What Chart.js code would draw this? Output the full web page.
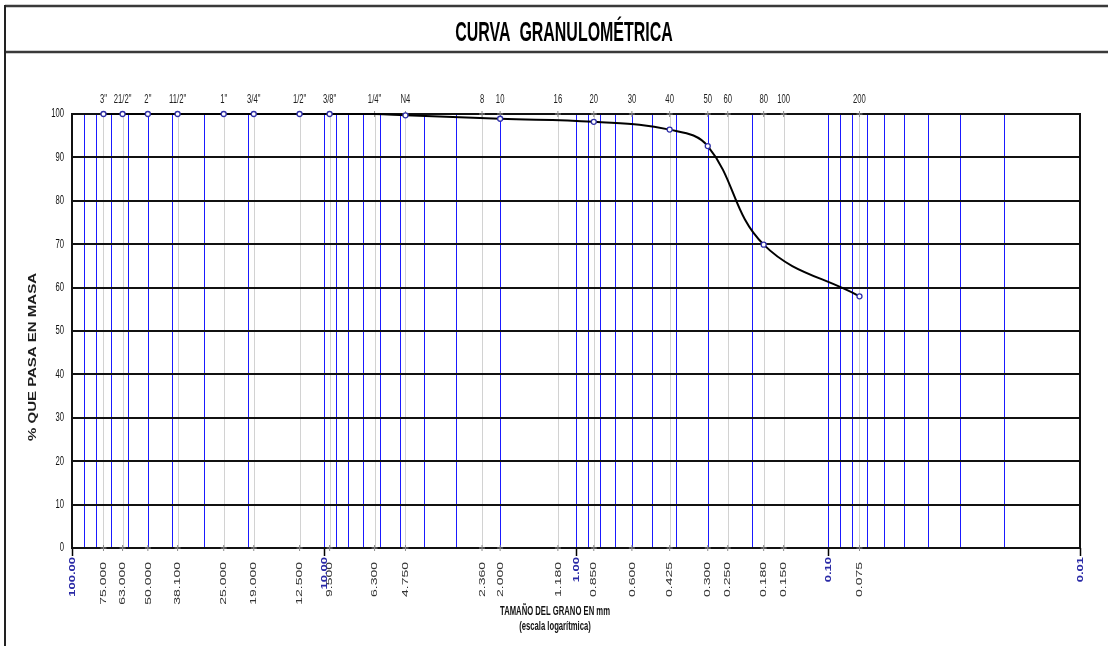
<!DOCTYPE html>
<html lang="es">
<head>
<meta charset="utf-8">
<title>Curva granulométrica</title>
<script src="https://cdn.jsdelivr.net/npm/chart.js@4.4.1/dist/chart.umd.min.js"></script>
<style>
  html, body { margin: 0; padding: 0; background: #ffffff; }
  #wrap { width: 1108px; height: 646px; position: relative; }
  canvas { display: block; }
</style>
</head>
<body>
<div id="wrap"><canvas id="curva" width="1108" height="646"></canvas></div>
<script>
// ---- Tamices (abertura en mm) y su designación ----
const sieveSizes = [75, 63, 50, 38.1, 25, 19, 12.5, 9.5, 6.3, 4.75, 2.36, 2.0, 1.18, 0.85, 0.6, 0.425, 0.3, 0.25, 0.18, 0.15, 0.075];
const sieveNames = ['3"', '21/2"', '2"', '11/2"', '1"', '3/4"', '1/2"', '3/8"', '1/4"', 'N4', '8', '10', '16', '20', '30', '40', '50', '60', '80', '100', '200'];
const sieveLabels = ['75.000', '63.000', '50.000', '38.100', '25.000', '19.000', '12.500', '9.500', '6.300', '4.750', '2.360', '2.000', '1.180', '0.850', '0.600', '0.425', '0.300', '0.250', '0.180', '0.150', '0.075'];

// ---- Décadas de la escala logarítmica ----
const decades = [100, 10, 1, 0.1, 0.01];
const decadeLabels = ['100.00', '10.00', '1.00', '0.10', '0.01'];

// ---- Subdivisiones logarítmicas (líneas azules) ----
const subdivisions = [
  90, 80, 70, 60, 50, 40, 30, 20,
  9, 8, 7, 6, 5, 4, 3, 2,
  0.9, 0.8, 0.7, 0.6, 0.5, 0.4, 0.3, 0.2,
  0.09, 0.08, 0.07, 0.06, 0.05, 0.04, 0.03, 0.02
];

// ---- Ensayo: tamaño (mm) y % que pasa ----
const testSizes = [75, 63, 50, 38.1, 25, 19, 12.5, 9.5, 6.3, 4.75, 2.0, 0.85, 0.425, 0.3, 0.18, 0.075];
const passing   = [100, 100, 100, 100, 100, 100, 100, 100, 100, 99.7, 98.9, 98.2, 96.4, 92.6, 69.9, 58.0];
const markerShown = [1, 1, 1, 1, 1, 1, 1, 1, 0, 1, 1, 1, 1, 1, 1, 1];

// ---- Eje vertical ----
const yTicks = [0, 10, 20, 30, 40, 50, 60, 70, 80, 90, 100];

const SQUEEZE = 0.64;
const FONT = '"Liberation Sans", Arial, sans-serif';

function squeezedText(ctx, text, x, y, o) {
  ctx.save();
  ctx.translate(x, y);
  ctx.scale(o.sx || SQUEEZE, 1);
  if (o.rotate) ctx.rotate(o.rotate);
  ctx.font = o.font;
  ctx.fillStyle = o.color || '#000';
  ctx.textAlign = o.align || 'center';
  ctx.textBaseline = o.baseline || 'alphabetic';
  ctx.fillText(text, 0, 0);
  ctx.restore();
}

function vline(ctx, px, y0, y1, color, width) {
  ctx.strokeStyle = color;
  ctx.lineWidth = width;
  ctx.beginPath();
  ctx.moveTo(px, y0);
  ctx.lineTo(px, y1);
  ctx.stroke();
}

const framePlugin = {
  id: 'frame',
  beforeDraw(chart) {
    const ctx = chart.ctx;
    const xs = chart.scales.x;
    const { top, bottom } = chart.chartArea;

    // marco de la hoja
    ctx.save();
    ctx.strokeStyle = '#3a3a3a';
    ctx.lineWidth = 2.5;
    ctx.beginPath();
    ctx.moveTo(5, 6); ctx.lineTo(1108, 6);
    ctx.moveTo(5, 52); ctx.lineTo(1108, 52);
    ctx.stroke();
    vline(ctx, 5, 5, 646, '#222', 2);

    // líneas verticales: tamices (gris), subdivisiones (azul), bordes (negro)
    sieveSizes.forEach(s => vline(ctx, Math.round(xs.getPixelForValue(s)) + 0.5, top, bottom, '#d2d2d2', 1));
    subdivisions.forEach(s => vline(ctx, Math.round(xs.getPixelForValue(s)) + 0.5, top, bottom, '#1a1aff', 1));
    vline(ctx, Math.round(xs.getPixelForValue(10)) + 0.5, top, bottom, '#1a1aff', 1);
    vline(ctx, Math.round(xs.getPixelForValue(1)) + 0.5, top, bottom, '#1a1aff', 1);
    vline(ctx, Math.round(xs.getPixelForValue(0.1)) + 0.5, top, bottom, '#1a1aff', 1);
    vline(ctx, Math.round(xs.getPixelForValue(100)), top - 1, bottom + 1, '#111', 2);
    vline(ctx, Math.round(xs.getPixelForValue(0.01)), top - 1, bottom + 1, '#111', 2);

    // marcas de década bajo el eje
    decades.forEach(d => vline(ctx, Math.round(xs.getPixelForValue(d)) + 0.5, bottom, bottom + 8, '#000', 1.5));
    ctx.restore();

    squeezedText(ctx, 'CURVA  GRANULOMÉTRICA', 564, 41, { font: 'bold 28px ' + FONT, sx: 0.57, color: '#000' });
  },
  afterDraw(chart) {
    const ctx = chart.ctx;
    const xs = chart.scales.x, ys = chart.scales.y;
    const { top, bottom } = chart.chartArea;

    // designación de tamices (arriba)
    sieveSizes.forEach((s, i) => {
      squeezedText(ctx, sieveNames[i], xs.getPixelForValue(s), top - 11, { font: '12px ' + FONT, color: '#1e1e1e' });
    });

    // aberturas en mm (abajo, verticales)
    sieveSizes.forEach((s, i) => {
      squeezedText(ctx, sieveLabels[i], xs.getPixelForValue(s), bottom + 14, {
        font: '14px ' + FONT, color: '#333', rotate: -Math.PI / 2, align: 'right', baseline: 'middle', sx: 0.7
      });
    });
    decades.forEach((d, i) => {
      squeezedText(ctx, decadeLabels[i], xs.getPixelForValue(d), bottom + 9, {
        font: 'bold 13px ' + FONT, color: '#2a2aa6', rotate: -Math.PI / 2, align: 'right', baseline: 'middle', sx: 0.7
      });
    });

    // valores del eje vertical
    yTicks.forEach(v => {
      squeezedText(ctx, String(v), 64, ys.getPixelForValue(v), { font: '12px ' + FONT, align: 'right', baseline: 'middle', color: '#111' });
    });

    // títulos de ejes
    squeezedText(ctx, '% QUE PASA EN MASA', 33, 357, {
      font: 'bold 15px ' + FONT, rotate: -Math.PI / 2, align: 'center', baseline: 'middle', sx: 0.72, color: '#1e1e1e'
    });
    squeezedText(ctx, 'TAMAÑO DEL GRANO EN mm', 555, 615, { font: 'bold 12px ' + FONT, color: '#111' });
    squeezedText(ctx, '(escala logarítmica)', 555, 630, { font: 'bold 12px ' + FONT, color: '#111' });
  }
};

new Chart(document.getElementById('curva'), {
  type: 'line',
  data: {
    datasets: [
      {
        label: 'Curva granulométrica',
        data: testSizes.map((s, i) => ({ x: s, y: passing[i] })),
        borderColor: '#000000',
        borderWidth: 2,
        tension: 0.4,
        pointRadius: markerShown.map(m => m ? 2.5 : 0),
        pointBorderColor: '#3030a8',
        pointBackgroundColor: '#ffffff',
        pointBorderWidth: 1.3,
        clip: false,
        order: 0
      },
      {
        label: 'Tamices superior',
        data: sieveSizes.map(s => ({ x: s, y: 100 })),
        showLine: false,
        pointStyle: 'cross',
        pointRadius: 3,
        pointBorderColor: '#8c8c8c',
        pointBorderWidth: 1,
        clip: false,
        order: 2
      },
      {
        label: 'Tamices inferior',
        data: sieveSizes.map(s => ({ x: s, y: 0 })),
        showLine: false,
        pointStyle: 'cross',
        pointRadius: 3,
        pointBorderColor: '#8c8c8c',
        pointBorderWidth: 1,
        clip: false,
        order: 2
      }
    ]
  },
  options: {
    responsive: false,
    animation: false,
    events: [],
    layout: { padding: { left: 72, right: 28, top: 114, bottom: 98 } },
    plugins: { legend: { display: false }, tooltip: { enabled: false }, title: { display: false } },
    scales: {
      x: {
        type: 'logarithmic',
        reverse: true,
        min: 0.01,
        max: 100,
        ticks: { display: false },
        border: { display: false },
        grid: { display: false, drawTicks: false }
      },
      y: {
        min: 0,
        max: 100,
        ticks: { display: false, stepSize: 10 },
        border: { display: false },
        grid: { drawTicks: false, color: '#111111', lineWidth: 2 }
      }
    }
  },
  plugins: [framePlugin]
});
</script>
</body>
</html>
